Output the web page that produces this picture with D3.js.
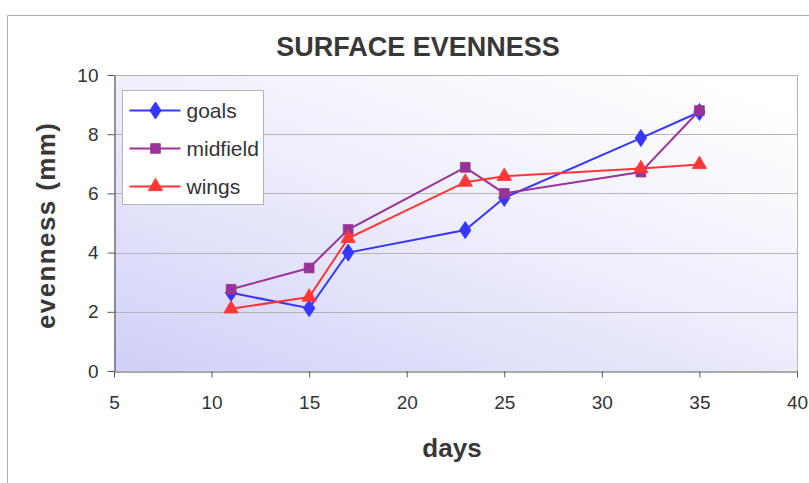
<!DOCTYPE html>
<html>
<head>
<meta charset="utf-8">
<script src="https://cdn.jsdelivr.net/npm/d3@7"></script>
<style>
  html, body { margin: 0; padding: 0; background: #fff; }
  svg { display: block; font-family: "Liberation Sans", Arial, sans-serif; }
</style>
</head>
<body>
<svg id="chart" width="809" height="483"></svg>
<script>
// Surface evenness measurements (mm) by day for each pitch zone
const days = [11, 15, 17, 23, 25, 32, 35];
const goals = [2.64, 2.12, 4.0, 4.76, 5.85, 7.87, 8.75];
const midfield = [2.76, 3.48, 4.78, 6.88, 6.0, 6.72, 8.8];
const wings = [2.1, 2.5, 4.48, 6.38, 6.58, 6.84, 6.98];
const seriesNames = ["goals", "midfield", "wings"];
const xTicks = [5, 10, 15, 20, 25, 30, 35, 40];
const yTicks = [0, 2, 4, 6, 8, 10];

const colors = { goals: "#3636ff", midfield: "#993399", wings: "#ff3636" };
const symbols = { goals: d3.symbolDiamond, midfield: d3.symbolSquare, wings: d3.symbolTriangle };
const symbolSizes = { goals: 85, midfield: 95, wings: 90 };

const svg = d3.select("#chart");
const W = 809, H = 483;
const plot = { left: 114, right: 797, top: 75, bottom: 371 };

const x = d3.scaleLinear().domain([5, 40]).range([plot.left, plot.right]);
const y = d3.scaleLinear().domain([0, 10]).range([plot.bottom, plot.top]);

// Outer chart frame
svg.append("path")
  .attr("d", `M7.5,${H} V15.5 H${W}`)
  .attr("fill", "none").attr("stroke", "#b0b0b0").attr("stroke-width", 1);

// Plot area gradient background
const defs = svg.append("defs");
const grad = defs.append("linearGradient").attr("id", "bg")
  .attr("x1", "0%").attr("y1", "100%").attr("x2", "85%").attr("y2", "0%");
grad.append("stop").attr("offset", "0%").attr("stop-color", "#d0d0f8");
grad.append("stop").attr("offset", "55%").attr("stop-color", "#eeeefc");
grad.append("stop").attr("offset", "100%").attr("stop-color", "#ffffff");

svg.append("rect")
  .attr("x", plot.left).attr("y", plot.top)
  .attr("width", plot.right - plot.left).attr("height", plot.bottom - plot.top)
  .attr("fill", "url(#bg)");

// Horizontal gridlines
svg.append("g").selectAll("line").data(yTicks.filter(t => t > 0))
  .join("line")
  .attr("x1", plot.left).attr("x2", plot.right)
  .attr("y1", d => Math.round(y(d)) + 0.5).attr("y2", d => Math.round(y(d)) + 0.5)
  .attr("stroke", "#b4b4b4").attr("stroke-width", 1);

// Right border of plot area
svg.append("line")
  .attr("x1", plot.right + 0.5).attr("x2", plot.right + 0.5)
  .attr("y1", plot.top).attr("y2", plot.bottom)
  .attr("stroke", "#b4b4b4");

// Axes
const xAxis = svg.append("g")
  .attr("transform", `translate(0,${Math.round(plot.bottom) + 0.5})`)
  .call(d3.axisBottom(x).tickValues(xTicks).tickSize(6).tickPadding(18).tickSizeOuter(0));
const yAxis = svg.append("g")
  .attr("transform", `translate(${plot.left + 0.5},0)`)
  .call(d3.axisLeft(y).tickValues(yTicks).tickSize(7).tickPadding(9).tickSizeOuter(0));

[xAxis, yAxis].forEach(a => {
  a.select(".domain").attr("stroke", "#555").attr("stroke-width", 1.2);
  a.selectAll(".tick line").attr("stroke", "#555");
  a.selectAll("text").attr("fill", "#333").attr("font-size", 19)
    .attr("font-family", "'Liberation Sans', Arial, sans-serif");
});

// Series lines and markers
const data = { goals, midfield, wings };
const line = d3.line().x(d => x(d[0])).y(d => y(d[1]));

seriesNames.forEach(name => {
  const pts = days.map((d, i) => [d, data[name][i]]);
  svg.append("path")
    .datum(pts)
    .attr("d", line)
    .attr("fill", "none")
    .attr("stroke", colors[name])
    .attr("stroke-width", 2);
});
seriesNames.forEach(name => {
  const pts = days.map((d, i) => [d, data[name][i]]);
  const sym = d3.symbol().type(symbols[name]).size(symbolSizes[name]);
  svg.append("g").selectAll("path").data(pts).join("path")
    .attr("d", sym)
    .attr("transform", d => `translate(${x(d[0])},${y(d[1])})${name === "goals" ? " scale(1.15,1)" : ""}`)
    .attr("fill", colors[name])
    .attr("stroke", colors[name]).attr("stroke-width", 0.8);
});

// Title and axis labels
svg.append("text")
  .attr("x", 418).attr("y", 56)
  .attr("text-anchor", "middle")
  .attr("font-size", 27).attr("font-weight", "bold").attr("fill", "#383838")
  .text("SURFACE EVENNESS");

svg.append("text")
  .attr("transform", "translate(55,226) rotate(-90)")
  .attr("text-anchor", "middle")
  .attr("font-size", 26).attr("font-weight", "bold").attr("fill", "#383838")
  .attr("textLength", 206).attr("lengthAdjust", "spacing")
  .text("evenness (mm)");

svg.append("text")
  .attr("x", 452).attr("y", 457)
  .attr("text-anchor", "middle")
  .attr("font-size", 26).attr("font-weight", "bold").attr("fill", "#383838")
  .text("days");

// Legend
const legend = svg.append("g").attr("transform", "translate(122.5,90.5)");
legend.append("rect")
  .attr("width", 141).attr("height", 114)
  .attr("fill", "#fff").attr("stroke", "#b4b4b4");
seriesNames.forEach((name, i) => {
  const cy = 20 + i * 38;
  const g = legend.append("g").attr("transform", `translate(0,${cy})`);
  g.append("line").attr("x1", 7).attr("x2", 58).attr("y1", 0).attr("y2", 0)
    .attr("stroke", colors[name]).attr("stroke-width", 2);
  g.append("path")
    .attr("d", d3.symbol().type(symbols[name]).size(symbolSizes[name])())
    .attr("transform", `translate(33,0)${name === "goals" ? " scale(1.15,1)" : ""}`)
    .attr("fill", colors[name]).attr("stroke", colors[name]).attr("stroke-width", 0.8);
  g.append("text").attr("x", 64).attr("y", 7)
    .attr("font-size", 21).attr("fill", "#333")
    .text(name);
});
</script>
</body>
</html>
